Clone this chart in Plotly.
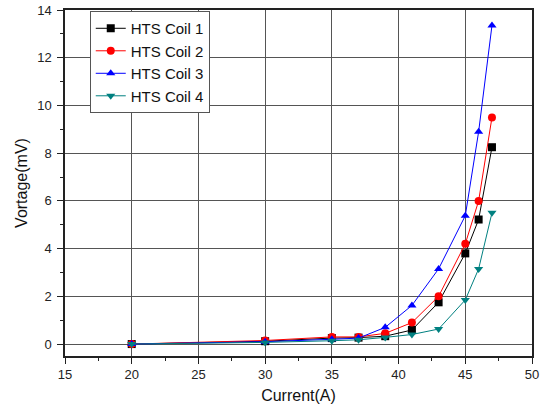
import plotly.graph_objects as go

current = [20, 30, 35, 37, 39, 41, 43, 45, 46, 47]
coil1 = [0, 0.12, 0.25, 0.27, 0.33, 0.59, 1.75, 3.8, 5.22, 8.25]
coil2 = [0, 0.15, 0.3, 0.3, 0.45, 0.9, 2.0, 4.2, 6.0, 9.5]
coil3 = [0, 0.1, 0.2, 0.25, 0.7, 1.62, 3.15, 5.38, 8.9, 13.35]
coil4 = [0, 0.07, 0.14, 0.18, 0.28, 0.4, 0.63, 1.85, 3.15, 5.5]
names = ["HTS Coil 1", "HTS Coil 2", "HTS Coil 3", "HTS Coil 4"]
colors = ["#000000", "#ff0000", "#0000ff", "#008080"]
symbols = ["square", "circle", "triangle-up", "triangle-down"]
x_ticks = [15, 20, 25, 30, 35, 40, 45, 50]
y_ticks = [0, 2, 4, 6, 8, 10, 12, 14]

fig = go.Figure()
for name, ys, c, s in zip(names, [coil1, coil2, coil3, coil4], colors, symbols):
    fig.add_trace(go.Scatter(
        x=current, y=ys, name=name, mode="lines+markers",
        line=dict(color=c, width=1),
        marker=dict(symbol=s, color=c, size=8),
    ))

font = "Liberation Sans, Arial, sans-serif"
fig.update_layout(
    width=544, height=408,
    margin=dict(l=65, r=12, t=10, b=52),
    paper_bgcolor="white", plot_bgcolor="white",
    font=dict(family=font, size=13, color="#222"),
    showlegend=True,
    legend=dict(
        x=0.053, y=0.997, xanchor="left", yanchor="top",
        bordercolor="#555", borderwidth=1, bgcolor="white",
        font=dict(size=15, color="#111"),
        tracegroupgap=0, itemwidth=30,
    ),
    xaxis=dict(
        range=[15, 50], tickvals=x_ticks, ticktext=[str(v) for v in x_ticks],
        showgrid=True, gridcolor="#555", gridwidth=1,
        showline=True, linecolor="#222", linewidth=1.5, mirror=True,
        ticks="outside", ticklen=6, tickcolor="#222",
        minor=dict(dtick=2.5, tick0=15, ticks="outside", ticklen=3, tickcolor="#222", showgrid=False),
        zeroline=False, automargin=False,
        title=dict(text="Current(A)", font=dict(size=16, color="#111"), standoff=8),
    ),
    yaxis=dict(
        range=[-0.5, 14], tickvals=y_ticks, ticktext=[str(v) for v in y_ticks],
        showgrid=True, gridcolor="#555", gridwidth=1,
        showline=True, linecolor="#222", linewidth=1.5, mirror=True,
        ticks="outside", ticklen=6, tickcolor="#222",
        ticklabelstandoff=3,
        minor=dict(dtick=1, tick0=0, ticks="outside", ticklen=3, tickcolor="#222", showgrid=False),
        zeroline=False, automargin=False,
        title=dict(text="Vortage(mV)", font=dict(size=16, color="#111"), standoff=6),
    ),
)
fig.write_html("out.html")
